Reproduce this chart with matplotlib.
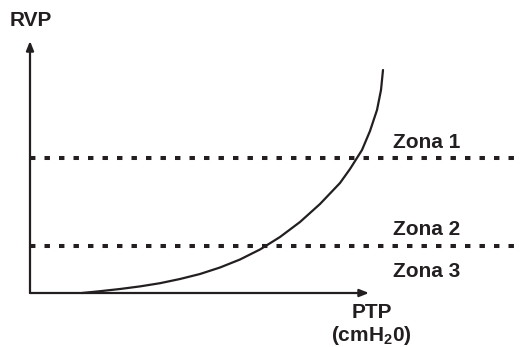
import matplotlib
matplotlib.use("Agg")
import matplotlib.pyplot as plt

plt.rcParams['font.family'] = ['Liberation Sans', 'DejaVu Sans']
plt.rcParams['mathtext.fontset'] = 'custom'
plt.rcParams['mathtext.bf'] = 'Liberation Sans:bold'
plt.rcParams['mathtext.rm'] = 'Liberation Sans:bold'

# curve (PTP vs RVP), in chart units
curve_x = [52, 70, 90, 110, 130, 150, 170, 190, 210, 230, 250, 270, 290, 310, 320, 332, 340, 347, 351, 353]
curve_y = [0, 1.8, 4.0, 6.6, 9.8, 14.0, 19.0, 25.5, 33.5, 43.5, 56, 71, 89, 110, 124, 143, 162, 183, 203, 223]
zone_lines = [135, 47]
zone_labels = ["Zona 1", "Zona 2", "Zona 3"]
zone_label_y = [145, 58, 16]
x_label = "PTP"
x_unit = r"(cmH$_{\mathbf{2}}$0)"
y_label = "RVP"

INK = "#231f20"
fig = plt.figure(figsize=(5.22, 3.47), dpi=100)
ax = fig.add_axes([0, 0, 1, 1])
ax.set_xlim(-30, 492)
ax.set_ylim(-54, 293)
ax.axis('off')

# axes with arrows
ax.annotate("", xy=(0, 252), xytext=(0, 0),
            arrowprops=dict(arrowstyle="-|>,head_length=0.55,head_width=0.22", lw=1.6, color=INK,
                            shrinkA=0, shrinkB=0))
ax.annotate("", xy=(339, 0), xytext=(0, 0),
            arrowprops=dict(arrowstyle="-|>,head_length=0.55,head_width=0.22", lw=1.6, color=INK,
                            shrinkA=0, shrinkB=0))

for yv in zone_lines:
    ax.plot([0, 495], [yv, yv], color=INK, lw=2.9, linestyle=(0, (1.35, 2.25)),
            solid_capstyle='butt', dash_capstyle='butt', clip_on=False)

ax.plot(curve_x, curve_y, color=INK, lw=1.6, solid_joinstyle='round', solid_capstyle='round')

for lab, yv in zip(zone_labels, zone_label_y):
    ax.text(363, yv, lab, fontsize=15, fontweight='bold', color=INK, ha='left', va='baseline')

ax.text(1, 267, y_label, fontsize=15, fontweight='bold', color=INK, ha='center', va='baseline')
ax.text(342, -25, x_label, fontsize=15, fontweight='bold', color=INK, ha='center', va='baseline')
ax.text(341, -48, x_unit, fontsize=15, fontweight='bold', color=INK, ha='center', va='baseline')

fig.savefig("out.png", dpi=100)
